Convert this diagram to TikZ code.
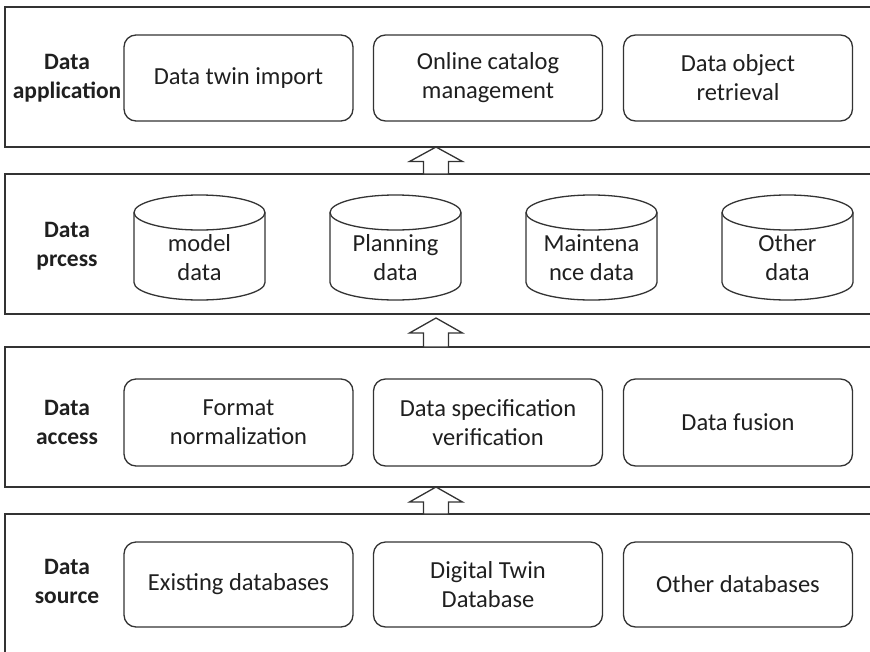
\documentclass[tikz,border=0pt]{standalone}
\usepackage{fontspec}
\setmainfont{Carlito}
\begin{document}
\begin{tikzpicture}[x=1pt,y=1pt,
  panel/.style={draw=black!80, line width=1.7pt},
  item/.style={draw=black!80, line width=1.3pt, rounded corners=12pt,
    minimum width=229pt, align=center, inner sep=0pt,
    font=\fontsize{24.5}{29}\selectfont, text=black!88},
  layer/.style={align=center, inner sep=0pt,
    font=\fontsize{23.5}{29}\selectfont\bfseries, text=black!88},
  dbtext/.style={align=center, inner sep=0pt,
    font=\fontsize{24.5}{29}\selectfont, text=black!88},
  cyl/.style={draw=black!80, line width=1.3pt},
  uparrow/.style={draw=black!80, line width=1.3pt, fill=white, line join=miter}
]
\useasboundingbox (0,0) rectangle (870,-651);

% layer frames (open on the right edge)
\draw[panel] (870,-7) -- (5,-7) -- (5,-147) -- (870,-147);
\draw[panel] (870,-174) -- (5,-174) -- (5,-314) -- (870,-314);
\draw[panel] (870,-347) -- (5,-347) -- (5,-487) -- (870,-487);
\draw[panel] (870,-514) -- (5,-514) -- (5,-655);

% layer titles
\node[layer] (lapp) at (67,-78)    {Data\\application};
\node[layer] (lproc) at (67,-246)  {Data\\prcess};
\node[layer] (lacc) at (67,-422)   {Data\\access};
\node[layer] (lsrc) at (67,-581)   {Data\\source};

% data application
\node[item, minimum height=86pt] (app1) at (238.5,-78) {Data twin import};
\node[item, minimum height=86pt] (app2) at (488,-78)   {Online catalog\\management};
\node[item, minimum height=86pt] (app3) at (738,-78)   {Data object\\retrieval};

% data process: storage cylinders
\foreach \cx/\nm/\txt in {199.5/model/{model\\data},
                          395.5/plan/{Planning\\data},
                          591.5/maint/{Maintena\\nce data},
                          787.5/other/{Other\\data}} {
  \draw[cyl, fill=white] (\cx-65.5,-212.5) -- (\cx-65.5,-282.5)
     arc[start angle=180, end angle=360, x radius=65.5, y radius=17.5]
     -- (\cx+65.5,-212.5);
  \draw[cyl] (\cx,-212.5) ellipse [x radius=65.5, y radius=17.5];
  \node[dbtext] (\nm) at (\cx,-258) {\txt};
}

% data access
\node[item, minimum height=87pt] (acc1) at (238.5,-422.5) {Format\\normalization};
\node[item, minimum height=87pt] (acc2) at (488,-422.5)   {Data specification\\verification};
\node[item, minimum height=87pt] (acc3) at (738,-422.5)   {Data fusion};

% data source
\node[item, minimum height=85pt] (src1) at (238.5,-584.5) {Existing databases};
\node[item, minimum height=85pt] (src2) at (488,-584.5)   {Digital Twin\\Database};
\node[item, minimum height=85pt] (src3) at (738,-584.5)   {Other databases};

% hollow block arrows between layers
\foreach \t/\b/\e in {147/161.5/174, 318/333/347, 487/502/514} {
  \draw[uparrow] (436,-\t) -- (462.5,-\b) -- (448.5,-\b) -- (448.5,-\e)
     -- (423.5,-\e) -- (423.5,-\b) -- (409.5,-\b) -- cycle;
}
\end{tikzpicture}
\end{document}
